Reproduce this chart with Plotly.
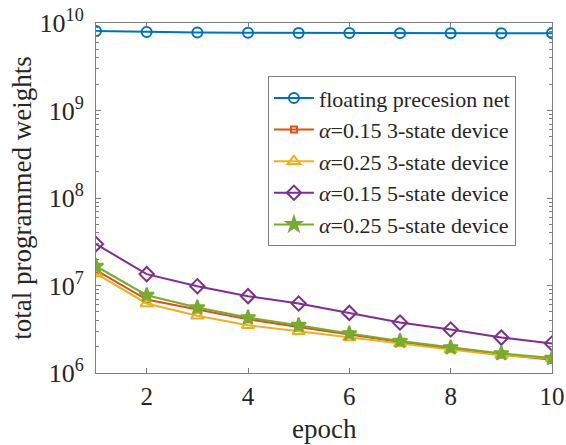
import plotly.graph_objects as go

epochs = [1, 2, 3, 4, 5, 6, 7, 8, 9, 10]
floating_net = [8.1e9, 7.9e9, 7.8e9, 7.75e9, 7.7e9, 7.68e9, 7.66e9, 7.65e9, 7.63e9, 7.62e9]
a015_3state = [1.50e7, 6.92e6, 5.32e6, 4.12e6, 3.36e6, 2.75e6, 2.26e6, 1.90e6, 1.62e6, 1.42e6]
a025_3state = [1.37e7, 6.23e6, 4.50e6, 3.52e6, 3.00e6, 2.54e6, 2.17e6, 1.85e6, 1.60e6, 1.46e6]
a015_5state = [2.97e7, 1.35e7, 9.80e6, 7.55e6, 6.23e6, 4.86e6, 3.78e6, 3.14e6, 2.54e6, 2.17e6]
a025_5state = [1.66e7, 7.75e6, 5.60e6, 4.30e6, 3.52e6, 2.82e6, 2.32e6, 1.95e6, 1.67e6, 1.48e6]

names = ["floating precesion net",
         "<i>α</i>=0.15 3-state device",
         "<i>α</i>=0.25 3-state device",
         "<i>α</i>=0.15 5-state device",
         "<i>α</i>=0.25 5-state device"]
x_ticks = [2, 4, 6, 8, 10]
y_ticks = [1e6, 1e7, 1e8, 1e9, 1e10]
y_ticktext = ["10<sup>6</sup>", "10<sup>7</sup>", "10<sup>8</sup>", "10<sup>9</sup>", "10<sup>10</sup>"]
x_title = "epoch"
y_title = "total programmed weights"

colors = ["#0072BD", "#D95319", "#EDB120", "#7E2F8E", "#77AC30"]
symbols = ["circle-open", "square-open", "triangle-up-open", "diamond-open", "star"]
sizes = [10, 6, 11, 11, 11]
series = [floating_net, a015_3state, a025_3state, a015_5state, a025_5state]

fig = go.Figure()
for s, n, c, sym, sz in zip(series, names, colors, symbols, sizes):
    fig.add_trace(go.Scatter(
        x=epochs, y=s, name=n, mode="lines+markers",
        line=dict(color=c, width=2),
        marker=dict(symbol=sym, size=sz, color=c, line=dict(color=c, width=2)),
    ))

minor_vals = [k * 10 ** n for n in range(6, 10) for k in range(2, 10)]
axis_color = "#7f7f7f"
font_family = "Liberation Serif"

fig.update_layout(
    width=566, height=445,
    margin=dict(l=96, r=14, t=23, b=72, autoexpand=False),
    paper_bgcolor="white", plot_bgcolor="white",
    font=dict(family=font_family, color="#262626", size=24),
    showlegend=True,
    legend=dict(
        x=0.377, y=0.848, xanchor="left", yanchor="top",
        bordercolor=axis_color, borderwidth=1, bgcolor="white",
        font=dict(family=font_family, size=22, color="#262626"),
        tracegroupgap=0, itemwidth=40,
    ),
    xaxis=dict(
        range=[1, 10], tickvals=x_ticks, ticks="inside", ticklen=5,
        tickcolor=axis_color, showline=True, linecolor=axis_color, linewidth=1,
        mirror="ticks", showgrid=False, zeroline=False, automargin=False,
        tickfont=dict(family=font_family, size=25),
        ticklabelstandoff=1,
    ),
    yaxis=dict(
        type="log", range=[6, 10], tickvals=y_ticks, ticktext=y_ticktext,
        ticks="inside", ticklen=5, tickcolor=axis_color,
        showline=True, linecolor=axis_color, linewidth=1, mirror="ticks",
        showgrid=False, zeroline=False, automargin=False,
        tickfont=dict(family=font_family, size=26),
        ticklabelstandoff=6,
        minor=dict(tickvals=minor_vals, ticks="inside", ticklen=3, tickcolor=axis_color, showgrid=False),
        title=dict(text=y_title, font=dict(family=font_family, size=27), standoff=0),
    ),
    annotations=[dict(
        text=x_title, xref="paper", yref="paper", x=0.5, y=-0.16,
        xanchor="center", yanchor="middle", showarrow=False,
        font=dict(family=font_family, size=27, color="#262626"),
    )],
)

fig.write_html("out.html", config={"displayModeBar": False},
               post_script="document.body.style.margin='0';")
